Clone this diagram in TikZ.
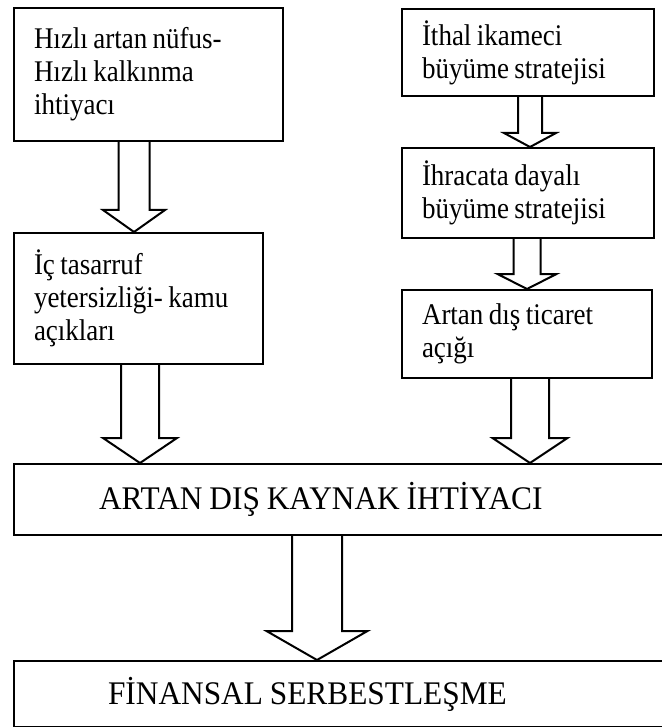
\documentclass[tikz,border=0pt]{standalone}
\usepackage{fontspec}
\usepackage{graphicx}
\setmainfont{Liberation Serif}
\usetikzlibrary{calc}
\newcommand\sq[1]{\scalebox{0.9}[1]{\spaceskip=0.2em\relax #1}}
\newcommand\bq[1]{\scalebox{0.95}[1]{\spaceskip=0.22em\relax #1}}
\newcommand\blockarrow[6]{%
  \draw[arr] let \p1=(#1.south), \p2=(#2.north) in
   ({(#3-#4)*1pt},\y1) -- ({(#3-#4)*1pt},{\y2+#6pt}) -- ({(#3-#5)*1pt},{\y2+#6pt})
   -- ({#3*1pt},\y2) -- ({(#3+#5)*1pt},{\y2+#6pt}) -- ({(#3+#4)*1pt},{\y2+#6pt})
   -- ({(#3+#4)*1pt},\y1);}
\begin{document}
\begin{tikzpicture}[x=1pt,y=-1pt,
  box/.style={draw, line width=2pt, anchor=north west, inner xsep=20pt, inner ysep=0pt,
    align=left, font=\fontsize{30}{33}\selectfont},
  bigbox/.style={draw, line width=2pt, anchor=north west, inner ysep=0pt,
    align=left, font=\fontsize{33}{36}\selectfont},
  arr/.style={draw, line width=2pt, line join=miter}]
\useasboundingbox (0,0) rectangle (661,727);

\node[box, text width=229pt, minimum height=133pt] (A) at (13,7)
  {\sq{Hızlı artan nüfus-}\\\sq{Hızlı kalkınma}\\\sq{ihtiyacı}};
\node[box, text width=209pt, minimum height=131pt] (C) at (13,232)
  {\sq{İç tasarruf}\\\sq{yetersizliği- kamu}\\\sq{açıkları}};
\node[box, text width=212pt, minimum height=87pt] (B) at (401,8)
  {\sq{İthal ikameci}\\\sq{büyüme stratejisi}};
\node[box, text width=212pt, minimum height=90pt] (D) at (401,147)
  {\sq{İhracata dayalı}\\\sq{büyüme stratejisi}};
\node[box, text width=210pt, minimum height=88pt] (E) at (401,289)
  {\sq{Artan dış ticaret}\\\sq{açığı}};
\node[bigbox, inner xsep=85pt, text width=484pt, minimum height=71pt] (F) at (13,463)
  {\bq{ARTAN DIŞ KAYNAK İHTİYACI}};
\node[bigbox, inner xsep=94pt, text width=466pt, minimum height=66pt] (G) at (13,660)
  {\bq{FİNANSAL SERBESTLEŞME}};

\blockarrow{A}{C}{134}{15.5}{31}{22}
\blockarrow{B}{D}{530}{12}{26}{14}
\blockarrow{D}{E}{527}{13.5}{29.5}{15}
\blockarrow{C}{F}{140}{19}{37}{25}
\blockarrow{E}{F}{530}{19}{37.5}{25}
\blockarrow{F}{G}{317}{25}{50.5}{29}
\end{tikzpicture}
\end{document}
